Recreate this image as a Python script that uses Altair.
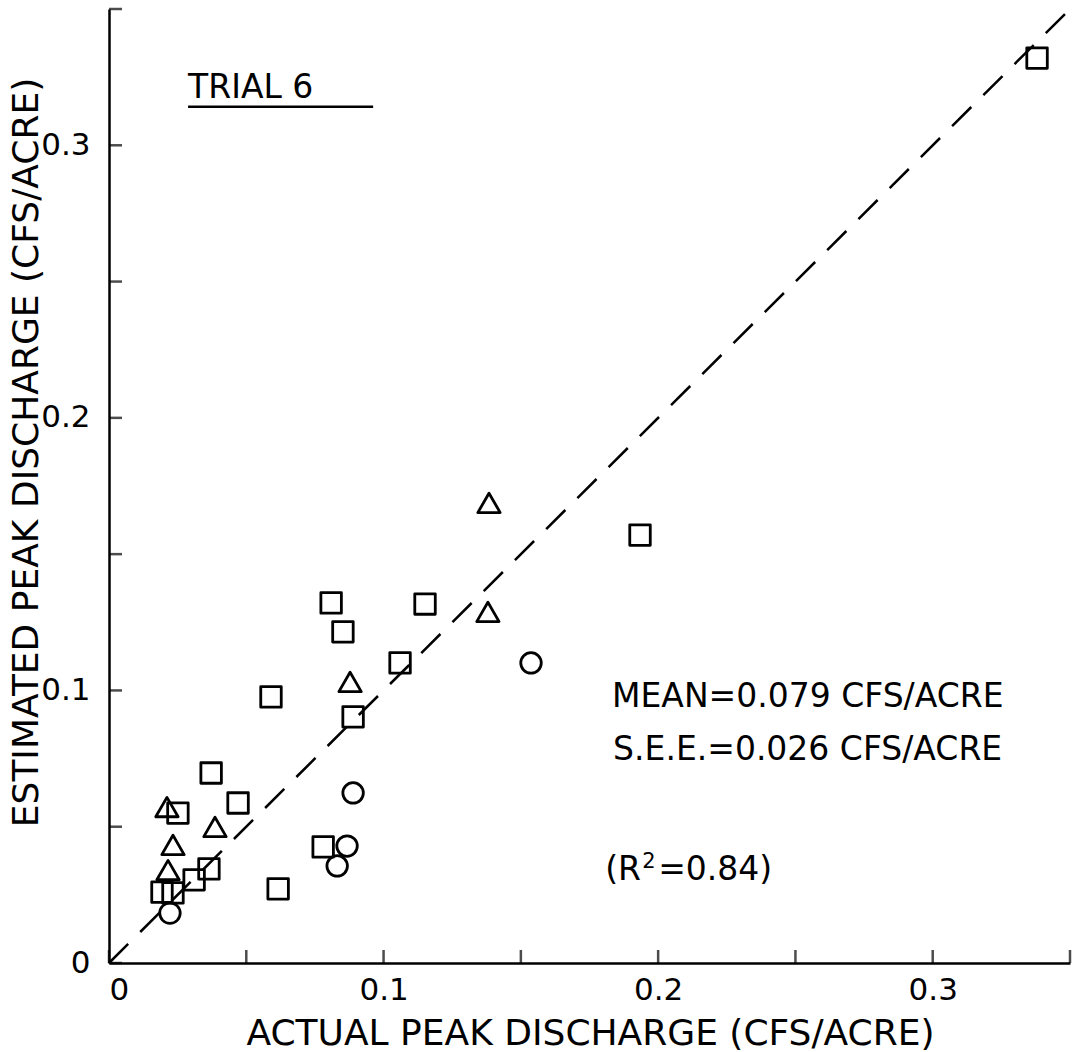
import altair as alt
import pandas as pd

# ---- data ----
sq_x = [0.338, 0.1934, 0.1151, 0.0809, 0.0852, 0.106, 0.059, 0.0889, 0.0372, 0.047,
        0.0251, 0.0364, 0.031, 0.0193, 0.0233, 0.0616, 0.078]
sq_y = [0.332, 0.157, 0.1317, 0.1321, 0.1215, 0.1101, 0.0976, 0.0903, 0.0697, 0.0587,
        0.055, 0.0345, 0.0305, 0.026, 0.0257, 0.0272, 0.0426]
ci_x = [0.1537, 0.0889, 0.0867, 0.0831, 0.0222]
ci_y = [0.1101, 0.0624, 0.0429, 0.0356, 0.0183]
tr_x = [0.1384, 0.138, 0.0878, 0.0211, 0.0386, 0.0233, 0.0215]
tr_y = [0.1688, 0.1288, 0.1031, 0.0572, 0.0499, 0.0433, 0.0341]

diag_x = [0.0, 0.35]
diag_y = [0.0, 0.35]

tick_vals = [0, 0.05, 0.1, 0.15, 0.2, 0.25, 0.3, 0.35]
label_vals = [0, 0.1, 0.2, 0.3]

x_title = "ACTUAL PEAK DISCHARGE (CFS/ACRE)"
y_title = "ESTIMATED PEAK DISCHARGE (CFS/ACRE)"

ann_text = ["TRIAL 6", "MEAN=0.079 CFS/ACRE", "S.E.E.=0.026 CFS/ACRE", "(R", "=0.84)"]
ann_x = [0.0288, 0.1832, 0.1836, 0.1807, 0.2]
ann_y = [0.3174, 0.0939, 0.0745, 0.0305, 0.0305]
sup_text = ["2"]
sup_x = [0.1942]
sup_y = [0.0349]
underline_x = [0.0288]
underline_x2 = [0.0962]
underline_y = [0.3141]

FONT = "DejaVu Sans"

sq = pd.DataFrame({"x": sq_x, "y": sq_y})
ci = pd.DataFrame({"x": ci_x, "y": ci_y})
tr = pd.DataFrame({"x": tr_x, "y": tr_y})
diag = pd.DataFrame({"x": diag_x, "y": diag_y})
ticks = pd.DataFrame({"v": tick_vals})
ann = pd.DataFrame({"x": ann_x, "y": ann_y, "t": ann_text})
sup = pd.DataFrame({"x": sup_x, "y": sup_y, "t": sup_text})
ul = pd.DataFrame({"x": underline_x, "x2": underline_x2, "y": underline_y})

xs = alt.Scale(domain=[0, 0.35], nice=False, zero=True)
ys = alt.Scale(domain=[0, 0.35], nice=False, zero=True)

x_axis = alt.Axis(
    values=label_vals, format="~g", title=x_title, ticks=False, grid=False,
    labelPadding=12,
    titleX=481, titleY=81, titleBaseline="alphabetic", titleAlign="center",
)
y_axis = alt.Axis(
    values=label_vals, format="~g", title=y_title, ticks=False, grid=False,
    labelPadding=19,
    titleX=-72, titleY=443, titleBaseline="alphabetic", titleAlign="center", titleAngle=270,
)

def X(field):
    return alt.X(field, scale=xs, axis=x_axis, title=x_title)

def Y(field):
    return alt.Y(field, scale=ys, axis=y_axis, title=y_title)

def marker(df, shape, size):
    return alt.Chart(df).mark_point(
        shape=shape, size=size, filled=False, color="black", strokeWidth=2.8,
        opacity=1, strokeJoin="round"
    ).encode(x=X("x:Q"), y=Y("y:Q"))

squares = marker(sq, "square", 420)
circles = marker(ci, "circle", 420)
triangles = marker(tr, "triangle-up", 500)

line = alt.Chart(diag).mark_line(color="black", strokeWidth=2.5, strokeDash=[27, 17]).encode(
    x=X("x:Q"),
    y=Y("y:Q"),
)

xticks = alt.Chart(ticks).mark_tick(
    orient="vertical", size=13, thickness=2.5, color="black", yOffset=-6.5
).encode(
    x=X("v:Q"),
    y=alt.datum(0),
)
yticks = alt.Chart(ticks).mark_tick(
    orient="horizontal", size=13, thickness=2.5, color="black", xOffset=6.5
).encode(
    y=Y("v:Q"),
    x=alt.datum(0),
)

ann_layer = alt.Chart(ann).mark_text(
    font=FONT, fontSize=33, color="black", align="left", baseline="alphabetic"
).encode(
    x=X("x:Q"),
    y=Y("y:Q"),
    text="t:N",
)
sup_layer = alt.Chart(sup).mark_text(
    font=FONT, fontSize=21, color="black", align="left", baseline="alphabetic"
).encode(
    x=X("x:Q"),
    y=Y("y:Q"),
    text="t:N",
)
ul_layer = alt.Chart(ul).mark_rule(color="black", strokeWidth=2.5).encode(
    x=X("x:Q"),
    x2="x2:Q",
    y=Y("y:Q"),
)

chart = alt.layer(
    line, squares, circles, triangles, xticks, yticks, ann_layer, sup_layer, ul_layer
).properties(
    width=961, height=954,
    autosize=alt.AutoSizeParams(type="none"),
    padding={"left": 109, "top": 9, "right": 4, "bottom": 89},
    background="white",
).configure_view(stroke=None).configure_axis(
    domainColor="black", domainWidth=2.5,
    labelFont=FONT, labelFontSize=31, labelColor="black",
    titleFont=FONT, titleFontSize=36, titleFontWeight="normal", titleColor="black",
)

chart.save("out.html", embed_options={"renderer": "svg", "actions": False})
